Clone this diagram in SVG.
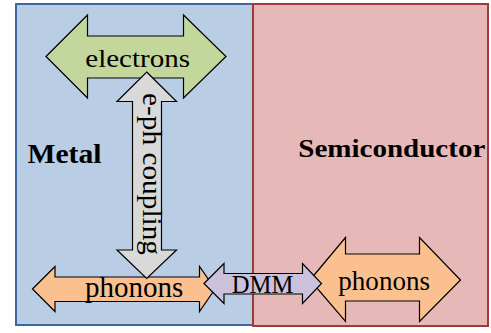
<svg xmlns="http://www.w3.org/2000/svg" width="491" height="333" viewBox="0 0 491 333">
<style>
.arr{stroke:#000;stroke-width:1.2;stroke-linejoin:miter}
text{font-family:'Liberation Serif','DejaVu Serif','Times New Roman',serif;fill:#000}
.b{font-weight:bold}
</style>
<rect width="491" height="333" fill="#fff"/>
<g id="metal">
<rect x="16" y="4" width="237" height="321" fill="#b9cde5" stroke="#3b68a0" stroke-width="2"/>
<text class="b" x="27.5" y="163.3" font-size="27" textLength="74" lengthAdjust="spacingAndGlyphs">Metal</text>
</g>
<g id="semiconductor">
<rect x="253" y="4" width="235" height="322" fill="#e6b9b8" stroke="#a3383b" stroke-width="2"/>
<text class="b" x="298.3" y="156.7" font-size="25" textLength="187" lengthAdjust="spacingAndGlyphs">Semiconductor</text>
</g>
<g id="connectors">
<g id="electrons">
<polygon class="arr" fill="#c3d69b" points="46,56.5 87.5,15 87.5,36 183.5,36 183.5,15 226,56.5 183.5,98 183.5,78 87.5,78 87.5,98"/>
<text x="85.3" y="66.7" font-size="25" textLength="104.7" lengthAdjust="spacingAndGlyphs">electrons</text>
</g>
<g id="phonons-metal">
<polygon class="arr" fill="#fac090" points="32.5,289 55,266.5 55,277 199.5,277 199.5,266.5 215,289 199.5,311.5 199.5,301.5 55,301.5 55,311.5"/>
<text x="85" y="296.7" font-size="29" textLength="98.3" lengthAdjust="spacingAndGlyphs">phonons</text>
</g>
<g id="eph-coupling">
<polygon class="arr" fill="#d9d9d9" points="146.7,72 176.5,101.5 161.5,101.5 161.5,250 176.5,250 146.7,278.5 117,250 132.5,250 132.5,101.5 117,101.5"/>
<text transform="translate(143,93) rotate(90)" font-size="28" textLength="162" lengthAdjust="spacingAndGlyphs">e-ph coupling</text>
</g>
<g id="phonons-semi">
<polygon class="arr" fill="#fac090" points="310,280 345.5,237.5 345.5,254 419.5,254 419.5,237.5 460.5,280 419.5,321.5 419.5,301 345.5,301 345.5,321.5"/>
<text x="338.3" y="290" font-size="27" textLength="91.7" lengthAdjust="spacingAndGlyphs">phonons</text>
</g>
<g id="dmm">
<polygon class="arr" fill="#ccc1da" points="204,283.5 224,263.5 224,273.5 302.5,273.5 302.5,263.5 321.5,283.5 302.5,303.5 302.5,294 224,294 224,303.5"/>
<text x="231.7" y="293" font-size="25" textLength="61.6" lengthAdjust="spacingAndGlyphs">DMM</text>
</g>
</g>
</svg>
